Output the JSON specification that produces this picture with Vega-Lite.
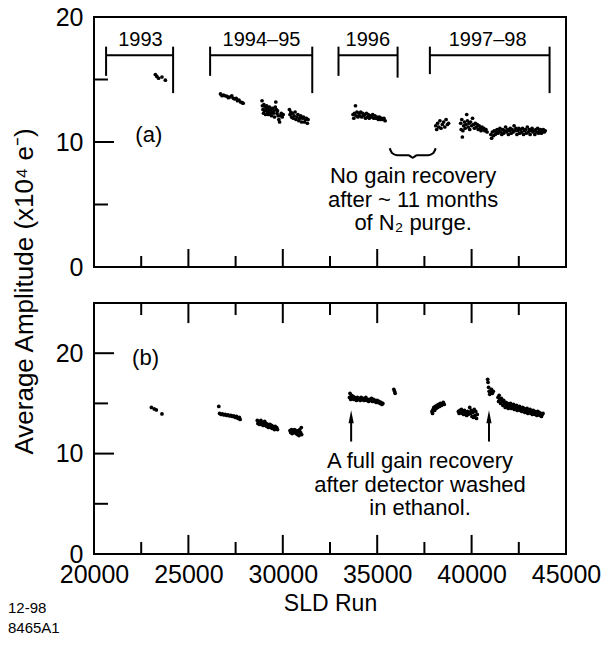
{
  "$schema": "https://vega.github.io/schema/vega-lite/v6.json",
  "padding": {"left": 7, "top": 4, "right": 0, "bottom": 0},
  "bounds": "flush",
  "spacing": 36,
  "config": {
    "view": {"stroke": "black", "strokeWidth": 2},
    "font": "Liberation Sans",
    "axis": {"domain": false, "grid": false, "ticks": false, "labelColor": "black", "labelFont": "Liberation Sans", "labelFontSize": 25, "titleFont": "Liberation Sans", "titleFontSize": 25, "titleFontWeight": "normal", "titleColor": "black", "labelFlush": false, "labelOverlap": false, "labelBound": false},
    "text": {"font": "Liberation Sans", "color": "black"}
  },
  "datasets": {
    "pa": [
      {"run":23250,"amp":15.4},{"run":23330,"amp":15.25},{"run":23420,"amp":15.1},{"run":23600,"amp":15.2},{"run":23780,"amp":14.95},
      {"run":26700,"amp":13.85},{"run":26780,"amp":13.7},{"run":26860,"amp":13.75},{"run":26950,"amp":13.7},{"run":27050,"amp":13.65},{"run":27120,"amp":13.55},{"run":27200,"amp":13.6},{"run":27300,"amp":13.7},{"run":27380,"amp":13.5},{"run":27450,"amp":13.45},{"run":27530,"amp":13.5},{"run":27600,"amp":13.3},{"run":27680,"amp":13.35},{"run":27760,"amp":13.2},{"run":27850,"amp":13.15},{"run":27900,"amp":13.1},
      {"run":28900,"amp":13.3},{"run":28920,"amp":12.9},{"run":28950,"amp":12.6},{"run":28980,"amp":12.3},{"run":29000,"amp":13.0},{"run":29030,"amp":12.5},{"run":29060,"amp":12.8},{"run":29090,"amp":12.2},{"run":29120,"amp":12.6},{"run":29150,"amp":12.9},{"run":29180,"amp":12.4},{"run":29210,"amp":12.7},{"run":29240,"amp":12.2},{"run":29270,"amp":12.5},{"run":29300,"amp":12.8},{"run":29330,"amp":12.3},{"run":29360,"amp":12.6},{"run":29400,"amp":12.1},{"run":29430,"amp":12.4},{"run":29460,"amp":12.7},{"run":29500,"amp":12.3},{"run":29530,"amp":12.5},{"run":29560,"amp":12.0},{"run":29600,"amp":12.8},{"run":29630,"amp":13.2},{"run":29660,"amp":12.6},{"run":29690,"amp":12.3},{"run":29720,"amp":12.5},{"run":29750,"amp":12.1},{"run":29790,"amp":11.8},{"run":29830,"amp":11.6},{"run":29870,"amp":12.1},{"run":29920,"amp":12.3},{"run":29970,"amp":12.0},{"run":30020,"amp":12.2},
      {"run":30350,"amp":12.6},{"run":30380,"amp":12.2},{"run":30420,"amp":12.4},{"run":30460,"amp":12.0},{"run":30500,"amp":12.3},{"run":30550,"amp":11.9},{"run":30600,"amp":12.1},{"run":30650,"amp":12.4},{"run":30700,"amp":11.8},{"run":30750,"amp":12.0},{"run":30800,"amp":12.2},{"run":30850,"amp":11.7},{"run":30900,"amp":11.9},{"run":30950,"amp":12.1},{"run":31000,"amp":11.6},{"run":31050,"amp":11.9},{"run":31100,"amp":12.0},{"run":31150,"amp":11.6},{"run":31200,"amp":11.8},{"run":31250,"amp":11.9},{"run":31300,"amp":11.5},{"run":31340,"amp":11.8},
      {"run":33720,"amp":12.2},{"run":33760,"amp":11.9},{"run":33800,"amp":12.3},{"run":33850,"amp":12.9},{"run":33880,"amp":12.1},{"run":33930,"amp":12.4},{"run":33980,"amp":12.0},{"run":34030,"amp":12.3},{"run":34080,"amp":12.1},{"run":34130,"amp":12.4},{"run":34180,"amp":12.0},{"run":34230,"amp":12.3},{"run":34280,"amp":12.1},{"run":34330,"amp":12.2},{"run":34380,"amp":11.9},{"run":34430,"amp":12.3},{"run":34480,"amp":12.0},{"run":34530,"amp":12.2},{"run":34580,"amp":11.9},{"run":34640,"amp":12.1},{"run":34700,"amp":12.0},{"run":34760,"amp":12.2},{"run":34820,"amp":11.9},{"run":34880,"amp":12.1},{"run":34940,"amp":11.9},{"run":35000,"amp":12.0},{"run":35060,"amp":11.8},{"run":35120,"amp":12.0},{"run":35180,"amp":11.8},{"run":35240,"amp":11.9},{"run":35300,"amp":11.8},{"run":35360,"amp":11.9},{"run":35420,"amp":11.7},
      {"run":38100,"amp":11.3},{"run":38150,"amp":11.0},{"run":38200,"amp":11.5},{"run":38260,"amp":11.2},{"run":38320,"amp":11.7},{"run":38380,"amp":11.1},{"run":38450,"amp":11.4},{"run":38520,"amp":11.6},{"run":38580,"amp":11.2},{"run":38650,"amp":11.8},{"run":38720,"amp":11.4},{"run":38780,"amp":11.5},
      {"run":39420,"amp":11.5},{"run":39450,"amp":11.0},{"run":39480,"amp":11.8},{"run":39510,"amp":10.4},{"run":39540,"amp":10.9},{"run":39580,"amp":11.3},{"run":39620,"amp":11.6},{"run":39660,"amp":11.1},{"run":39700,"amp":11.4},{"run":39740,"amp":12.2},{"run":39780,"amp":11.7},{"run":39820,"amp":11.2},{"run":39860,"amp":11.5},{"run":39900,"amp":11.0},{"run":39950,"amp":11.6},{"run":40000,"amp":11.3},{"run":40050,"amp":11.9},{"run":40100,"amp":11.4},{"run":40150,"amp":11.1},{"run":40200,"amp":11.5},{"run":40250,"amp":11.2},{"run":40300,"amp":11.4},{"run":40350,"amp":11.0},{"run":40400,"amp":11.3},{"run":40450,"amp":11.1},{"run":40500,"amp":10.9},{"run":40550,"amp":11.2},{"run":40600,"amp":11.0},{"run":40650,"amp":11.1},{"run":40700,"amp":10.9},{"run":40760,"amp":11.0},{"run":40820,"amp":10.8},
      {"run":41020,"amp":10.6},{"run":41060,"amp":10.3},{"run":41100,"amp":10.8},{"run":41150,"amp":10.5},{"run":41200,"amp":10.9},{"run":41250,"amp":10.6},{"run":41300,"amp":10.8},{"run":41350,"amp":11.0},{"run":41400,"amp":10.7},{"run":41450,"amp":10.9},{"run":41500,"amp":11.1},{"run":41550,"amp":10.8},{"run":41600,"amp":10.6},{"run":41650,"amp":11.0},{"run":41700,"amp":10.7},{"run":41750,"amp":10.9},{"run":41800,"amp":11.2},{"run":41850,"amp":10.8},{"run":41900,"amp":11.0},{"run":41950,"amp":10.6},{"run":42000,"amp":10.9},{"run":42050,"amp":11.1},{"run":42100,"amp":10.7},{"run":42150,"amp":11.0},{"run":42200,"amp":10.8},{"run":42250,"amp":11.3},{"run":42300,"amp":10.9},{"run":42350,"amp":11.1},{"run":42400,"amp":10.6},{"run":42450,"amp":10.9},{"run":42500,"amp":11.1},{"run":42550,"amp":10.7},{"run":42600,"amp":11.0},{"run":42650,"amp":10.8},{"run":42700,"amp":11.1},{"run":42750,"amp":10.6},{"run":42800,"amp":10.9},{"run":42850,"amp":11.0},{"run":42900,"amp":10.7},{"run":42950,"amp":11.2},{"run":43000,"amp":10.8},{"run":43050,"amp":11.0},{"run":43100,"amp":10.6},{"run":43150,"amp":10.9},{"run":43200,"amp":11.1},{"run":43250,"amp":10.8},{"run":43300,"amp":10.9},{"run":43350,"amp":10.6},{"run":43400,"amp":11.0},{"run":43450,"amp":10.8},{"run":43500,"amp":11.1},{"run":43550,"amp":10.7},{"run":43600,"amp":10.9},{"run":43650,"amp":11.0},{"run":43700,"amp":10.7},{"run":43750,"amp":10.9},{"run":43800,"amp":11.0},{"run":43850,"amp":10.8},{"run":43900,"amp":10.9}
    ],
    "pb": [
      {"run":23040,"amp":14.6},{"run":23190,"amp":14.45},{"run":23300,"amp":14.35},{"run":23600,"amp":13.95},
      {"run":26610,"amp":14.7},{"run":26650,"amp":14.0},{"run":26730,"amp":13.9},{"run":26800,"amp":13.95},{"run":26880,"amp":13.85},{"run":26950,"amp":13.9},{"run":27030,"amp":13.8},{"run":27100,"amp":13.85},{"run":27180,"amp":13.75},{"run":27250,"amp":13.8},{"run":27330,"amp":13.7},{"run":27400,"amp":13.75},{"run":27480,"amp":13.6},{"run":27550,"amp":13.7},{"run":27630,"amp":13.5},{"run":27700,"amp":13.6},{"run":27740,"amp":13.4},
      {"run":28650,"amp":13.3},{"run":28680,"amp":13.0},{"run":28720,"amp":13.2},{"run":28760,"amp":12.9},{"run":28800,"amp":13.1},{"run":28840,"amp":13.3},{"run":28880,"amp":12.9},{"run":28920,"amp":13.1},{"run":28960,"amp":12.8},{"run":29000,"amp":13.0},{"run":29040,"amp":13.2},{"run":29080,"amp":12.8},{"run":29120,"amp":13.0},{"run":29160,"amp":12.7},{"run":29200,"amp":12.9},{"run":29240,"amp":12.6},{"run":29280,"amp":12.8},{"run":29320,"amp":12.9},{"run":29360,"amp":12.6},{"run":29400,"amp":12.8},{"run":29440,"amp":12.5},{"run":29480,"amp":12.7},{"run":29520,"amp":12.6},{"run":29560,"amp":12.4},{"run":29600,"amp":12.7},{"run":29640,"amp":12.5},{"run":29680,"amp":12.6},{"run":29720,"amp":12.4},
      {"run":30380,"amp":12.3},{"run":30420,"amp":12.1},{"run":30460,"amp":12.4},{"run":30500,"amp":12.0},{"run":30540,"amp":12.3},{"run":30580,"amp":12.1},{"run":30620,"amp":12.4},{"run":30660,"amp":12.2},{"run":30700,"amp":12.0},{"run":30740,"amp":12.3},{"run":30780,"amp":11.9},{"run":30820,"amp":12.2},{"run":30860,"amp":11.8},{"run":30900,"amp":12.4},{"run":30940,"amp":12.1},{"run":30980,"amp":12.6},{"run":31000,"amp":11.9},
      {"run":33530,"amp":15.6},{"run":33560,"amp":16.0},{"run":33600,"amp":15.4},{"run":33640,"amp":15.8},{"run":33680,"amp":15.5},{"run":33720,"amp":15.7},{"run":33760,"amp":15.4},{"run":33800,"amp":15.6},{"run":33850,"amp":15.5},{"run":33900,"amp":15.3},{"run":33950,"amp":15.6},{"run":34000,"amp":15.4},{"run":34050,"amp":15.5},{"run":34100,"amp":15.3},{"run":34150,"amp":15.6},{"run":34200,"amp":15.4},{"run":34250,"amp":15.5},{"run":34300,"amp":15.3},{"run":34350,"amp":15.4},{"run":34400,"amp":15.6},{"run":34450,"amp":15.3},{"run":34500,"amp":15.4},{"run":34550,"amp":15.2},{"run":34600,"amp":15.4},{"run":34650,"amp":15.3},{"run":34700,"amp":15.5},{"run":34750,"amp":15.2},{"run":34800,"amp":15.4},{"run":34850,"amp":15.2},{"run":34900,"amp":15.3},{"run":34950,"amp":15.1},{"run":35000,"amp":15.3},{"run":35050,"amp":15.1},{"run":35100,"amp":15.2},{"run":35150,"amp":15.0},{"run":35200,"amp":15.1},{"run":35250,"amp":14.9},{"run":35300,"amp":15.0},
      {"run":35880,"amp":16.4},{"run":35920,"amp":16.2},{"run":35950,"amp":16.0},
      {"run":37900,"amp":14.2},{"run":37930,"amp":14.0},{"run":37960,"amp":14.4},{"run":38000,"amp":14.6},{"run":38040,"amp":14.3},{"run":38080,"amp":14.7},{"run":38120,"amp":14.5},{"run":38160,"amp":14.8},{"run":38200,"amp":14.6},{"run":38250,"amp":14.9},{"run":38300,"amp":14.7},{"run":38350,"amp":15.0},{"run":38400,"amp":14.8},{"run":38450,"amp":14.9},{"run":38500,"amp":15.1},{"run":38550,"amp":14.9},
      {"run":39300,"amp":14.2},{"run":39340,"amp":14.0},{"run":39380,"amp":14.3},{"run":39420,"amp":14.1},{"run":39460,"amp":14.4},{"run":39500,"amp":14.0},{"run":39540,"amp":14.2},{"run":39580,"amp":13.9},{"run":39620,"amp":14.3},{"run":39660,"amp":14.1},{"run":39700,"amp":14.0},{"run":39740,"amp":13.8},{"run":39780,"amp":14.2},{"run":39820,"amp":13.9},{"run":39860,"amp":14.1},{"run":39900,"amp":14.6},{"run":39940,"amp":14.0},{"run":39980,"amp":14.3},{"run":40020,"amp":13.7},{"run":40060,"amp":14.1},{"run":40100,"amp":13.6},{"run":40140,"amp":14.4},{"run":40180,"amp":13.8},{"run":40220,"amp":14.2},{"run":40260,"amp":13.5},{"run":40300,"amp":13.9},
      {"run":40850,"amp":17.4},{"run":40870,"amp":17.1},{"run":40900,"amp":16.6},{"run":40930,"amp":16.2},{"run":40960,"amp":15.9},{"run":41000,"amp":16.1},{"run":41050,"amp":16.4},{"run":41100,"amp":16.0},{"run":41150,"amp":16.2},
      {"run":41400,"amp":15.6},{"run":41430,"amp":15.2},{"run":41460,"amp":15.8},{"run":41500,"amp":15.4},{"run":41540,"amp":15.0},{"run":41580,"amp":15.5},{"run":41620,"amp":15.2},{"run":41660,"amp":14.8},{"run":41700,"amp":15.3},{"run":41740,"amp":15.0},{"run":41780,"amp":14.6},{"run":41820,"amp":15.1},{"run":41860,"amp":14.8},{"run":41900,"amp":15.0},{"run":41940,"amp":14.5},{"run":41980,"amp":14.9},{"run":42020,"amp":14.7},{"run":42060,"amp":15.0},{"run":42100,"amp":14.5},{"run":42140,"amp":14.8},{"run":42180,"amp":14.6},{"run":42220,"amp":14.9},{"run":42260,"amp":14.4},{"run":42300,"amp":14.7},{"run":42340,"amp":14.5},{"run":42380,"amp":14.8},{"run":42420,"amp":14.3},{"run":42460,"amp":14.6},{"run":42500,"amp":14.4},{"run":42540,"amp":14.7},{"run":42580,"amp":14.3},{"run":42620,"amp":14.5},{"run":42660,"amp":14.2},{"run":42700,"amp":14.6},{"run":42740,"amp":14.3},{"run":42780,"amp":14.5},{"run":42820,"amp":14.1},{"run":42860,"amp":14.4},{"run":42900,"amp":14.2},{"run":42940,"amp":14.5},{"run":42980,"amp":14.0},{"run":43020,"amp":14.3},{"run":43060,"amp":14.1},{"run":43100,"amp":14.4},{"run":43140,"amp":14.0},{"run":43180,"amp":14.2},{"run":43220,"amp":13.9},{"run":43260,"amp":14.3},{"run":43300,"amp":14.0},{"run":43340,"amp":14.2},{"run":43380,"amp":13.9},{"run":43420,"amp":14.1},{"run":43460,"amp":13.8},{"run":43500,"amp":14.2},{"run":43540,"amp":13.9},{"run":43580,"amp":14.1},{"run":43620,"amp":13.8},{"run":43660,"amp":14.0},{"run":43700,"amp":13.7},{"run":43740,"amp":13.9},{"run":43780,"amp":14.0}
    ],
    "ticksA": [
      {"x1":22500,"x2":22500,"y1":0,"y2":0.88},{"x1":25000,"x2":25000,"y1":0,"y2":1.44},{"x1":27500,"x2":27500,"y1":0,"y2":0.88},{"x1":30000,"x2":30000,"y1":0,"y2":1.44},{"x1":32500,"x2":32500,"y1":0,"y2":0.88},{"x1":35000,"x2":35000,"y1":0,"y2":1.44},{"x1":37500,"x2":37500,"y1":0,"y2":0.88},{"x1":40000,"x2":40000,"y1":0,"y2":1.44},{"x1":42500,"x2":42500,"y1":0,"y2":0.88},
      {"x1":20000,"x2":20740,"y1":5,"y2":5},{"x1":20000,"x2":21060,"y1":10,"y2":10},{"x1":20000,"x2":20740,"y1":15,"y2":15}
    ],
    "ticksB": [
      {"x1":22500,"x2":22500,"y1":0,"y2":1.2},{"x1":25000,"x2":25000,"y1":0,"y2":1.9},{"x1":27500,"x2":27500,"y1":0,"y2":1.2},{"x1":30000,"x2":30000,"y1":0,"y2":1.9},{"x1":32500,"x2":32500,"y1":0,"y2":1.2},{"x1":35000,"x2":35000,"y1":0,"y2":1.9},{"x1":37500,"x2":37500,"y1":0,"y2":1.2},{"x1":40000,"x2":40000,"y1":0,"y2":1.9},{"x1":42500,"x2":42500,"y1":0,"y2":1.2},
      {"x1":22500,"x2":22500,"y1":25,"y2":23.8},{"x1":25000,"x2":25000,"y1":25,"y2":23.0},{"x1":27500,"x2":27500,"y1":25,"y2":23.8},{"x1":30000,"x2":30000,"y1":25,"y2":23.0},{"x1":32500,"x2":32500,"y1":25,"y2":23.8},{"x1":35000,"x2":35000,"y1":25,"y2":23.0},{"x1":37500,"x2":37500,"y1":25,"y2":23.8},{"x1":40000,"x2":40000,"y1":25,"y2":23.0},{"x1":42500,"x2":42500,"y1":25,"y2":23.8},
      {"x1":20000,"x2":20740,"y1":5,"y2":5},{"x1":20000,"x2":21060,"y1":10,"y2":10},{"x1":20000,"x2":20740,"y1":15,"y2":15},{"x1":20000,"x2":21060,"y1":20,"y2":20}
    ],
    "brackets": [
      {"x1":20640,"x2":24190,"y1":16.95,"y2":16.95},{"x1":20640,"x2":20640,"y1":17.63,"y2":15.29},{"x1":24190,"x2":24190,"y1":17.63,"y2":13.91},
      {"x1":26150,"x2":31560,"y1":16.95,"y2":16.95},{"x1":26150,"x2":26150,"y1":17.63,"y2":15.29},{"x1":31560,"x2":31560,"y1":17.63,"y2":13.91},
      {"x1":32950,"x2":36080,"y1":16.95,"y2":16.95},{"x1":32950,"x2":32950,"y1":17.63,"y2":15.29},{"x1":36080,"x2":36080,"y1":17.63,"y2":15.15},
      {"x1":37790,"x2":44130,"y1":16.95,"y2":16.95},{"x1":37790,"x2":37790,"y1":17.63,"y2":15.43},{"x1":44130,"x2":44130,"y1":17.63,"y2":13.91}
    ],
    "years": [
      {"t":"1993","x":22460,"y":18.2},{"t":"1994–95","x":28870,"y":18.2},{"t":"1996","x":34500,"y":18.2},{"t":"1997–98","x":40850,"y":18.2}
    ],
    "notesA": [
      {"t":"No gain recovery","x":36900,"y":7.3},{"t":"after ~ 11 months","x":36900,"y":5.4},{"t":"of N₂ purge.","x":36900,"y":3.5},{"t":"(a)","x":22900,"y":10.55}
    ],
    "brace": [
      {"x":35660,"y":9.5},{"x":35800,"y":9.1},{"x":36050,"y":8.95},{"x":36650,"y":8.95},{"x":36880,"y":8.75},{"x":37110,"y":8.95},{"x":37710,"y":8.95},{"x":37960,"y":9.1},{"x":38100,"y":9.5}
    ],
    "notesB": [
      {"t":"A full gain recovery","x":37270,"y":9.3},{"t":"after detector washed","x":37270,"y":6.9},{"t":"in ethanol.","x":37270,"y":4.55},{"t":"(b)","x":22730,"y":19.5}
    ],
    "arrows": [
      {"x":33620,"y1":11.2,"y2":13.3,"yh":13.66},{"x":40920,"y1":11.2,"y2":13.3,"yh":13.66}
    ]
  },
  "vconcat": [
    {
      "width": 472,
      "height": 250,
      "resolve": {"axis": {"x": "independent", "y": "independent"}},
      "layer": [
        {
          "data": {"name": "pa"},
          "mark": {"type": "point", "filled": true, "size": 14, "color": "black", "opacity": 1},
          "encoding": {
            "x": {"field": "run", "type": "quantitative", "scale": {"domain": [20000, 45000], "nice": false, "zero": false}, "axis": null},
            "y": {"field": "amp", "type": "quantitative", "scale": {"domain": [0, 20], "nice": false},
              "axis": {"orient": "left", "values": [0, 10, 20], "format": "d", "labelPadding": 11,
                "title": "Average Amplitude   (x10⁴ e⁻)", "titleFontSize": 26, "titleX": -62, "titleY": 274, "titleBaseline": "alphabetic", "titleAlign": "center", "titleAngle": 270}}
          }
        },
        {
          "data": {"name": "ticksA"},
          "mark": {"type": "rule", "strokeWidth": 2, "color": "black"},
          "encoding": {
            "x": {"field": "x1", "type": "quantitative", "axis": null},
            "x2": {"field": "x2"},
            "y": {"field": "y1", "type": "quantitative", "axis": null},
            "y2": {"field": "y2"}
          }
        },
        {
          "data": {"name": "brackets"},
          "mark": {"type": "rule", "strokeWidth": 2, "color": "black"},
          "encoding": {
            "x": {"field": "x1", "type": "quantitative", "axis": null},
            "x2": {"field": "x2"},
            "y": {"field": "y1", "type": "quantitative", "axis": null},
            "y2": {"field": "y2"}
          }
        },
        {
          "data": {"name": "years"},
          "mark": {"type": "text", "fontSize": 20, "baseline": "middle", "align": "center"},
          "encoding": {
            "x": {"field": "x", "type": "quantitative", "axis": null},
            "y": {"field": "y", "type": "quantitative", "axis": null},
            "text": {"field": "t"}
          }
        },
        {
          "data": {"name": "notesA"},
          "mark": {"type": "text", "fontSize": 22, "baseline": "middle", "align": "center"},
          "encoding": {
            "x": {"field": "x", "type": "quantitative", "axis": null},
            "y": {"field": "y", "type": "quantitative", "axis": null},
            "text": {"field": "t"}
          }
        },
        {
          "data": {"name": "brace"},
          "mark": {"type": "line", "strokeWidth": 2, "color": "black", "interpolate": "monotone"},
          "encoding": {
            "x": {"field": "x", "type": "quantitative", "axis": null},
            "y": {"field": "y", "type": "quantitative", "axis": null}
          }
        }
      ]
    },
    {
      "width": 472,
      "height": 251,
      "title": {"text": ["12-98", "8465A1"], "orient": "bottom", "anchor": "start", "frame": "group", "dx": -86, "dy": -14, "fontSize": 15, "fontWeight": "normal", "font": "Liberation Sans", "lineHeight": 20, "offset": 0, "color": "black"},
      "resolve": {"axis": {"x": "independent", "y": "independent"}},
      "layer": [
        {
          "data": {"name": "pb"},
          "mark": {"type": "point", "filled": true, "size": 14, "color": "black", "opacity": 1},
          "encoding": {
            "x": {"field": "run", "type": "quantitative", "scale": {"domain": [20000, 45000], "nice": false, "zero": false},
              "axis": {"orient": "bottom", "values": [20000, 25000, 30000, 35000, 40000, 45000], "format": "d", "labelPadding": 8,
                "title": "SLD Run", "titlePadding": 5, "titleFontSize": 23}},
            "y": {"field": "amp", "type": "quantitative", "scale": {"domain": [0, 25], "nice": false},
              "axis": {"orient": "left", "values": [0, 10, 20], "format": "d", "labelPadding": 11, "title": null}}
          }
        },
        {
          "data": {"name": "ticksB"},
          "mark": {"type": "rule", "strokeWidth": 2, "color": "black"},
          "encoding": {
            "x": {"field": "x1", "type": "quantitative", "axis": null},
            "x2": {"field": "x2"},
            "y": {"field": "y1", "type": "quantitative", "axis": null},
            "y2": {"field": "y2"}
          }
        },
        {
          "data": {"name": "arrows"},
          "mark": {"type": "rule", "strokeWidth": 2, "color": "black"},
          "encoding": {
            "x": {"field": "x", "type": "quantitative", "axis": null},
            "y": {"field": "y1", "type": "quantitative", "axis": null},
            "y2": {"field": "y2"}
          }
        },
        {
          "data": {"name": "arrows"},
          "mark": {"type": "point", "shape": "M0,-1L0.4,1L-0.4,1Z", "filled": true, "size": 169, "color": "black", "opacity": 1},
          "encoding": {
            "x": {"field": "x", "type": "quantitative", "axis": null},
            "y": {"field": "yh", "type": "quantitative", "axis": null}
          }
        },
        {
          "data": {"name": "notesB"},
          "mark": {"type": "text", "fontSize": 22, "baseline": "middle", "align": "center"},
          "encoding": {
            "x": {"field": "x", "type": "quantitative", "axis": null},
            "y": {"field": "y", "type": "quantitative", "axis": null},
            "text": {"field": "t"}
          }
        }
      ]
    }
  ]
}
